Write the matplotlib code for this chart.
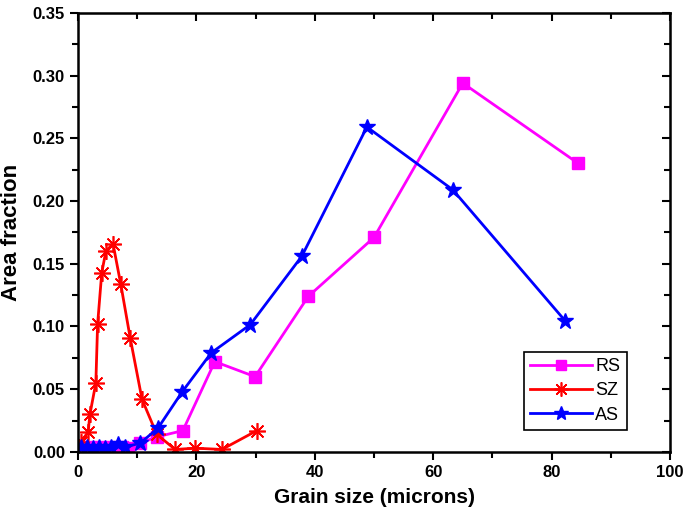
import matplotlib
matplotlib.use("Agg")
import matplotlib.pyplot as plt
from matplotlib.ticker import MultipleLocator, FormatStrFormatter

plt.rcParams["font.family"] = ["Liberation Sans", "DejaVu Sans"]

# RS - magenta squares
rs_x = [0.5, 1.5, 2.5, 3.5, 4.5, 5.5, 6.5, 7.5, 8.5, 10.5, 13.3, 17.7, 23.1, 29.9, 38.9, 50.0, 65.0, 84.5]
rs_y = [0.004, 0.004, 0.003, 0.004, 0.003, 0.004, 0.003, 0.004, 0.003, 0.007, 0.012, 0.017, 0.072, 0.060, 0.124, 0.171, 0.294, 0.230]

# SZ - red asterisks
sz_x = [0.5, 1.7, 2.0, 3.0, 3.3, 4.0, 4.7, 5.9, 7.2, 8.8, 10.8, 13.3, 16.4, 19.8, 24.3, 30.2]
sz_y = [0.008, 0.016, 0.030, 0.055, 0.102, 0.143, 0.160, 0.166, 0.134, 0.091, 0.042, 0.014, 0.002, 0.003, 0.002, 0.017]

# AS - blue stars
as_x = [0.5, 1.5, 2.5, 3.5, 4.5, 5.5, 6.8, 8.0, 10.5, 13.5, 17.6, 22.5, 29.1, 37.8, 48.8, 63.3, 82.3]
as_y = [0.004, 0.004, 0.003, 0.004, 0.003, 0.004, 0.006, 0.004, 0.007, 0.019, 0.048, 0.079, 0.1015, 0.156, 0.259, 0.209, 0.1045]

fig = plt.figure(figsize=(6.85, 5.13), dpi=100)
ax = fig.add_axes([0.114, 0.119, 0.864, 0.856])

ax.plot(rs_x, rs_y, color="#ff00ff", lw=2, marker="s", ms=9, label="RS")
ax.plot(sz_x, sz_y, color="#ff0000", lw=2, marker=(8, 2, 0), ms=12, mew=1.2, label="SZ")
ax.plot(as_x, as_y, color="#0000ff", lw=2, marker="*", ms=12, label="AS")

ax.set_xlim(0, 100)
ax.set_ylim(0, 0.35)
ax.xaxis.set_major_locator(MultipleLocator(20))
ax.xaxis.set_minor_locator(MultipleLocator(10))
ax.yaxis.set_major_locator(MultipleLocator(0.05))
ax.yaxis.set_minor_locator(MultipleLocator(0.025))
ax.yaxis.set_major_formatter(FormatStrFormatter("%.2f"))

ax.tick_params(which="both", direction="out", top=False, right=False, width=1.5)
ax.tick_params(which="major", length=6, labelsize=12)
ax.tick_params(which="minor", length=4)
for lab in ax.get_xticklabels() + ax.get_yticklabels():
    lab.set_fontweight("bold")

# inward ticks on the top and right frame
ay2 = ax.secondary_yaxis("right")
ay2.yaxis.set_major_locator(MultipleLocator(0.05))
ay2.yaxis.set_minor_locator(MultipleLocator(0.025))
ay2.tick_params(which="both", direction="in", labelright=False, width=1.5)
ay2.tick_params(which="major", length=6)
ay2.tick_params(which="minor", length=4)

ax2 = ax.secondary_xaxis("top")
ax2.xaxis.set_major_locator(MultipleLocator(20))
ax2.xaxis.set_minor_locator(MultipleLocator(10))
ax2.tick_params(which="both", direction="in", labeltop=False, width=1.5)
ax2.tick_params(which="major", length=6)
ax2.tick_params(which="minor", length=4)

for s in ax.spines.values():
    s.set_linewidth(1.8)

ax.set_xlabel("Grain size (microns)", fontsize=15, fontweight="bold", labelpad=6)
ax.set_ylabel("Area fraction", fontsize=16, fontweight="bold", labelpad=8)

leg = ax.legend(loc="lower right", bbox_to_anchor=(0.927, 0.05), fontsize=13,
                fancybox=False, edgecolor="black", framealpha=1, handlelength=3.4,
                borderpad=0.35, labelspacing=0.4, handletextpad=0.2, markerscale=0.85,
                borderaxespad=0)
leg.get_frame().set_linewidth(1.2)

fig.savefig("out.png", dpi=100)
